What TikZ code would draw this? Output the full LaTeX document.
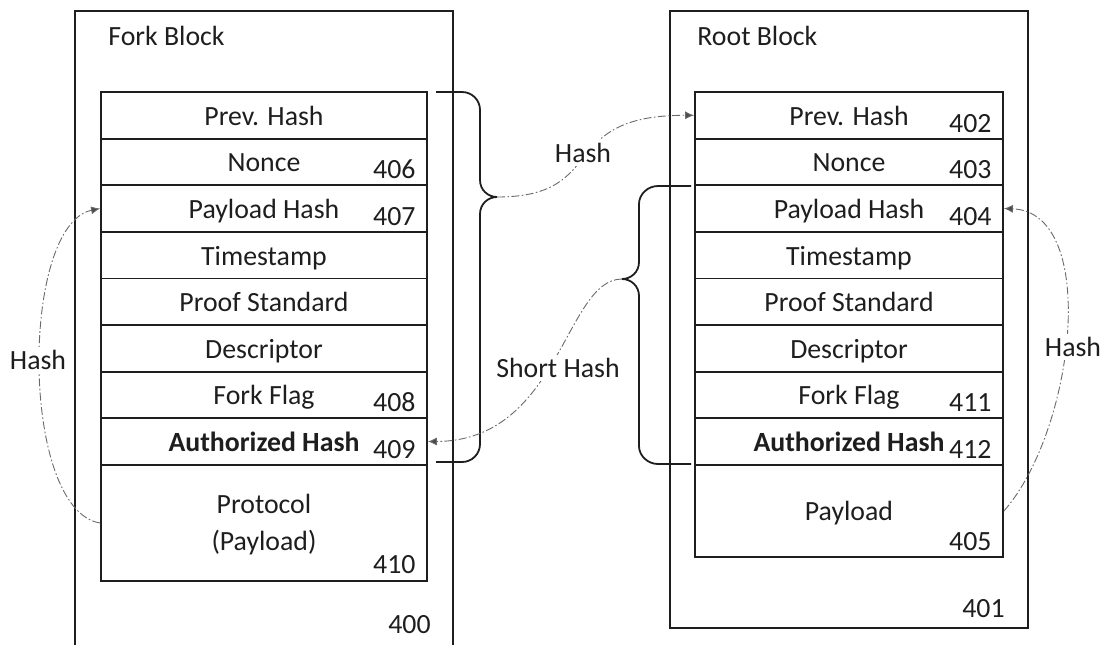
\documentclass[tikz,border=0pt]{standalone}
\usepackage{fontspec}
\setmainfont{Carlito}
\usetikzlibrary{arrows.meta,calc}
\definecolor{ink}{HTML}{1E1E1E}
\definecolor{hashline}{HTML}{6A6A6A}
\begin{document}
\begin{tikzpicture}[x=0.5pt,y=-0.5pt,
  every node/.style={text=ink,font=\fontsize{13.9}{16}\selectfont,inner sep=0pt},
  outerbox/.style={draw=ink,line width=0.6pt},
  cellL/.style={draw=ink,line width=0.9pt,minimum width=163pt,minimum height=23.3pt},
  cellR/.style={draw=ink,line width=0.9pt,minimum width=154pt,minimum height=23.3pt},
  fieldtext/.style={anchor=base},
  numtext/.style={anchor=base east},
  bracepath/.style={draw=ink,line width=0.9pt},
  hashflow/.style={draw=hashline,line width=0.45pt,
    dash pattern=on 4pt off 1.2pt on 0.8pt off 1.2pt,
    -{Latex[length=4.5pt,width=4pt,fill=ink!80]}},
  flowlabel/.style={fill=white,inner sep=1.5pt}]
\useasboundingbox (0,0) rectangle (1108,644);

% outer block frames
\draw[outerbox] (75,11) rectangle (453,660);
\draw[outerbox] (670,11) rectangle (1028,628);
\node[anchor=base west] (forktitle) at (108,45) {Fork Block};
\node[anchor=base west] (roottitle) at (697,45) {Root Block};
\node[anchor=base east] (n400) at (431,633) {400};
\node[anchor=base east] (n401) at (1005,617) {401};

% header fields of the fork block
\foreach \i/\txt/\num in {1/{Prev. Hash}/{},2/Nonce/406,3/{Payload Hash}/407,
    4/Timestamp/{},5/{Proof Standard}/{},6/Descriptor/{},7/{Fork Flag}/408,
    8/{\bfseries Authorized Hash}/409}{
  \node[cellL] (l\i) at (264,{92+46.6*\i-23.3}) {};
  \node[fieldtext] at ($(l\i.center)+(0,10)$) {\txt};
  \node[numtext] at ($(l\i.east)+(-12,17)$) {\num};
}
\node[cellL,minimum height=58pt] (l9) at (264,523) {};
\node[fieldtext] at ($(l9.center)+(0,-10)$) {Protocol};
\node[fieldtext] at ($(l9.center)+(0,27)$) {(Payload)};
\node[numtext] at ($(l9.east)+(-12,50)$) {410};

% header fields of the root block
\foreach \i/\txt/\num in {1/{Prev. Hash}/402,2/Nonce/403,3/{Payload Hash}/404,
    4/Timestamp/{},5/{Proof Standard}/{},6/Descriptor/{},7/{Fork Flag}/411,
    8/{\bfseries Authorized Hash}/412}{
  \node[cellR] (r\i) at (849,{92+46.6*\i-23.3}) {};
  \node[fieldtext] at ($(r\i.center)+(0,10)$) {\txt};
  \node[numtext] at ($(r\i.east)+(-12,17)$) {\num};
}
\node[cellR,minimum height=46pt] (r9) at (849,511) {};
\node[fieldtext] at ($(r9.center)+(0,9)$) {Payload};
\node[numtext] at ($(r9.east)+(-12,39)$) {405};

% braces grouping the hashed fields
\coordinate (ltip) at (497,197);
\coordinate (rtip) at (622,279);
\draw[bracepath] (436,92) -- (462,92) .. controls (472,92) and (480,100) .. (480,110)
  -- (480,180) .. controls (480,190) and (488,197) .. (ltip)
  .. controls (488,197) and (480,204) .. (480,214)
  -- (480,444) .. controls (480,454) and (472,462) .. (462,462) -- (436,462);
\draw[bracepath] (691,186) -- (658,186) .. controls (648,186) and (639,194) .. (639,204)
  -- (639,262) .. controls (639,272) and (631,279) .. (rtip)
  .. controls (631,279) and (639,286) .. (639,296)
  -- (639,446) .. controls (639,456) and (648,464) .. (658,464) -- (691,464);

% hash links
\draw[hashflow] (ltip) .. controls (610,197) and (555,115) .. (r1.west);
\draw[hashflow] (rtip) .. controls (565,279) and (560,441) .. (l8.east);
\draw[hashflow] (l9.west) .. controls (20,510) and (20,225) .. (l3.west);
\draw[hashflow] (r9.east) .. controls (1075,430) and (1100,212) .. (r3.east);

\node[flowlabel] (toplabel) at (583,153) {Hash};
\node[flowlabel] (shortlabel) at (558,368) {Short Hash};
\node[flowlabel] (leftlabel) at (38,360) {Hash};
\node[flowlabel] (rightlabel) at (1073,347) {Hash};
\end{tikzpicture}
\end{document}
